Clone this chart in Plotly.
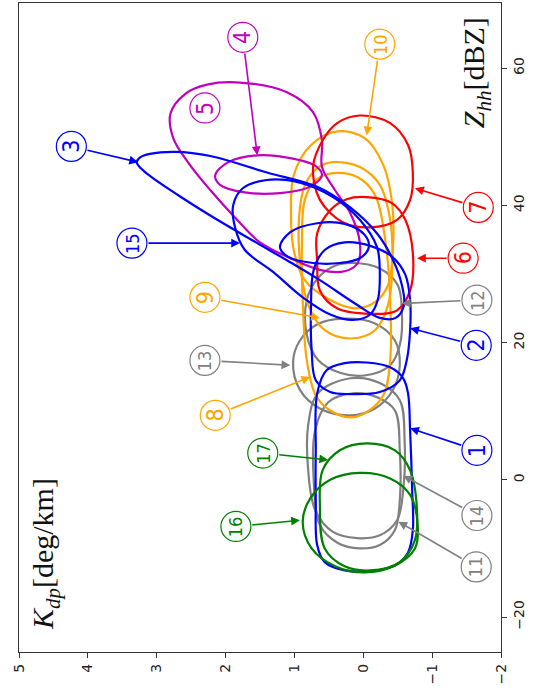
import plotly.graph_objects as go

# ---- contour outlines: Kdp [deg/km] and Zhh [dBZ] along each closed curve ----
c1_kdp = [0.67, 0.53, 0.27, -0.05, -0.39, -0.58, -0.65, -0.68, -0.71, -0.72, -0.65, -0.46, -0.10, 0.27, 0.56, 0.67, 0.69, 0.69]
c1_zhh = [12.6, 16.0, 17.0, 17.1, 16.4, 14.8, 12.6, 7.2, -1.5, -7.3, -10.6, -12.5, -13.3, -13.2, -12.0, -9.5, -3.0, 4.3]

c2_kdp = [0.75, 0.69, 0.48, 0.19, -0.24, -0.53, -0.63, -0.68, -0.68, -0.61, -0.42, -0.10, 0.27, 0.56, 0.72, 0.76]
c2_zhh = [18.9, 14.5, 12.8, 12.5, 12.8, 14.5, 17.4, 21.8, 26.2, 29.9, 32.5, 34.1, 34.6, 33.5, 30.6, 24.7]

c3_kdp = [3.29, 3.24, 3.10, 2.73, 2.22, 1.40, 0.67, 0.19, -0.20, -0.42, -0.56, -0.59, -0.47, -0.24, 0.12, 0.63, 1.11, 1.54, 2.12, 2.66, 3.10, 3.23]
c3_zhh = [46.3, 47.0, 47.5, 47.8, 47.2, 44.8, 42.7, 39.7, 35.9, 32.3, 28.4, 25.4, 23.6, 23.6, 25.7, 29.1, 32.0, 34.5, 37.9, 41.3, 44.3, 45.4]

c15_kdp = [1.40, 0.92, 0.44, 0.05, -0.20, -0.24, -0.21, -0.10, 0.15, 0.48, 0.88, 1.31, 1.72, 1.86, 1.89, 1.75]
c15_zhh = [43.7, 43.3, 41.2, 37.9, 33.9, 30.1, 26.2, 24.1, 23.3, 24.1, 26.6, 30.3, 33.5, 36.7, 40.0, 42.5]

inner_kdp = [1.21, 1.06, 0.67, 0.27, -0.02, -0.08, 0.05, 0.34, 0.73, 1.09]
inner_zhh = [33.9, 36.1, 37.4, 37.3, 35.7, 33.9, 32.3, 31.6, 31.6, 32.5]

c4_kdp = [1.54, 1.06, 0.70, 0.60, 0.78, 1.21, 1.72, 2.08, 2.15, 1.96]
c4_zhh = [47.3, 46.9, 45.8, 44.4, 42.7, 41.8, 41.9, 43.0, 44.4, 46.3]

c5_kdp = [2.80, 2.58, 2.27, 1.79, 1.11, 0.73, 0.60, 0.60, 0.41, 0.19, 0.05, 0.08, 0.27, 0.63, 1.06, 1.50, 1.86, 2.22, 2.54, 2.76]
c5_zhh = [53.4, 56.3, 57.6, 57.9, 56.5, 53.6, 49.5, 45.6, 42.2, 38.9, 34.6, 31.6, 30.4, 30.6, 32.3, 34.6, 38.2, 42.2, 46.2, 49.8]

c6_kdp = [-0.05, -0.42, -0.61, -0.72, -0.68, -0.49, -0.10, 0.38, 0.63, 0.67, 0.67, 0.48, 0.24]
c6_zhh = [41.2, 40.3, 37.9, 33.0, 27.6, 24.7, 24.2, 25.0, 27.6, 32.0, 35.9, 39.3, 40.9]

c7_kdp = [0.05, -0.39, -0.65, -0.72, -0.68, -0.49, -0.10, 0.29, 0.63, 0.73, 0.59, 0.38]
c7_zhh = [53.1, 52.0, 48.8, 44.7, 40.8, 37.9, 36.8, 37.5, 40.8, 45.6, 49.5, 52.0]

c8_kdp = [0.44, 0.08, -0.17, -0.32, -0.39, -0.39, -0.29, -0.02, 0.19, 0.48, 0.69, 0.82, 0.88, 0.89, 0.85, 0.69]
c8_zhh = [44.7, 44.1, 41.5, 34.9, 26.2, 17.4, 12.3, 9.7, 9.1, 10.1, 12.3, 17.4, 26.2, 34.9, 40.8, 43.7]

c9_kdp = [0.44, 0.05, -0.24, -0.39, -0.42, -0.36, -0.17, 0.19, 0.56, 0.80, 0.92, 0.93, 0.85, 0.66]
c9_zhh = [46.3, 45.6, 43.0, 37.9, 30.6, 25.5, 21.8, 20.6, 21.8, 25.5, 32.0, 38.6, 42.9, 45.5]

c10_kdp = [0.38, -0.02, -0.29, -0.42, -0.43, -0.36, -0.17, 0.12, 0.48, 0.85, 1.01, 1.05, 1.01, 0.77]
c10_zhh = [50.8, 49.8, 45.9, 40.2, 33.6, 28.4, 25.9, 25.0, 26.2, 29.1, 33.5, 39.3, 44.4, 48.7]

c11_kdp = [0.15, -0.21, -0.46, -0.53, -0.53, -0.46, -0.24, 0.05, 0.37, 0.63, 0.72, 0.70, 0.51]
c11_zhh = [12.6, 12.0, 10.1, 4.3, -3.0, -7.3, -9.5, -10.0, -9.2, -6.6, -0.1, 7.2, 11.3]

c12_kdp = [0.15, -0.24, -0.50, -0.56, -0.53, -0.39, -0.02, 0.34, 0.66, 0.82, 0.82, 0.66, 0.41]
c12_zhh = [31.6, 30.8, 28.4, 24.7, 19.6, 16.7, 15.2, 15.6, 17.5, 21.1, 26.2, 29.4, 31.2]

c13_kdp = [0.29, -0.17, -0.46, -0.53, -0.43, -0.17, 0.19, 0.63, 0.92, 1.02, 0.92, 0.66]
c13_zhh = [23.5, 22.8, 20.3, 16.7, 13.1, 10.4, 9.4, 10.4, 13.1, 17.2, 20.3, 22.7]

c14_kdp = [0.19, -0.24, -0.53, -0.60, -0.58, -0.49, -0.24, 0.09, 0.44, 0.70, 0.80, 0.80, 0.66]
c14_zhh = [14.8, 14.1, 11.6, 5.8, -1.5, -5.9, -8.1, -8.5, -7.6, -4.4, 1.4, 8.0, 12.6]

c16_kdp = [0.05, -0.39, -0.68, -0.79, -0.75, -0.46, -0.02, 0.41, 0.75, 0.88, 0.77, 0.48]
c16_zhh = [1.0, 0.2, -2.2, -6.6, -10.0, -12.5, -13.5, -12.6, -10.0, -6.2, -2.7, 0.0]

c17_kdp = [-0.05, -0.46, -0.68, -0.78, -0.75, -0.53, -0.10, 0.27, 0.56, 0.63, 0.59, 0.34]
c17_zhh = [5.3, 4.3, 1.4, -4.4, -8.8, -12.0, -13.2, -12.6, -10.0, -3.7, 1.4, 4.3]

# ---- numbered callouts: label centre and arrow tip (None = no arrow) ----
label_num = [3, 4, 5, 15, 9, 13, 8, 17, 16, 10, 7, 6, 12, 2, 1, 14, 11]
label_kdp = [4.24, 1.75, 2.30, 3.36, 2.30, 2.30, 2.15, 1.46, 1.85, -0.24, -1.67, -1.45, -1.65, -1.64, -1.65, -1.65, -1.64]
label_zhh = [48.6, 64.5, 54.2, 34.5, 26.6, 17.4, 9.4, 3.9, -6.8, 63.5, 39.7, 32.3, 26.2, 19.6, 4.3, -5.2, -12.7]
tip_kdp = [3.27, 1.54, None, 1.79, 0.63, 1.06, 0.77, 0.51, 0.92, -0.05, -0.75, -0.78, -0.56, -0.68, -0.68, -0.58, -0.51]
tip_zhh = [46.3, 47.3, None, 34.5, 23.6, 16.7, 15.0, 2.9, -5.9, 50.2, 42.5, 32.3, 25.7, 22.1, 7.5, 0.6, -6.1]

kdp_ticks = [5, 4, 3, 2, 1, 0, -1, -2]
zhh_ticks = [-20, 0, 20, 40, 60]

BLUE = "#0000ff"
MAGENTA = "#bf00bf"
RED = "#ff0000"
ORANGE = "#ffa500"
GRAY = "#808080"
GREEN = "#008000"

num_color = {1: BLUE, 2: BLUE, 3: BLUE, 15: BLUE, 4: MAGENTA, 5: MAGENTA,
             6: RED, 7: RED, 8: ORANGE, 9: ORANGE, 10: ORANGE,
             11: GRAY, 12: GRAY, 13: GRAY, 14: GRAY, 16: GREEN, 17: GREEN}

curves = [
    (c11_kdp, c11_zhh, GRAY), (c14_kdp, c14_zhh, GRAY), (c13_kdp, c13_zhh, GRAY),
    (c12_kdp, c12_zhh, GRAY),
    (c8_kdp, c8_zhh, ORANGE), (c9_kdp, c9_zhh, ORANGE), (c10_kdp, c10_zhh, ORANGE),
    (c5_kdp, c5_zhh, MAGENTA), (c4_kdp, c4_zhh, MAGENTA),
    (c6_kdp, c6_zhh, RED), (c7_kdp, c7_zhh, RED),
    (c1_kdp, c1_zhh, BLUE), (c2_kdp, c2_zhh, BLUE), (c3_kdp, c3_zhh, BLUE),
    (c15_kdp, c15_zhh, BLUE), (inner_kdp, inner_zhh, BLUE),
    (c16_kdp, c16_zhh, GREEN), (c17_kdp, c17_zhh, GREEN),
]


def closed(seq):
    """Repeat the first vertex at the end; plotly then draws a closed spline."""
    return list(seq) + [seq[0]]


fig = go.Figure()
for kdp, zhh, col in curves:
    fig.add_trace(go.Scatter(
        x=closed(kdp), y=closed(zhh), mode="lines",
        line=dict(color=col, width=2.2, shape="spline", smoothing=1.0),
        hoverinfo="skip", showlegend=False))

shapes = []
annotations = []
R = 15  # callout circle radius in px
for n, lk, lz, tk, tz in zip(label_num, label_kdp, label_zhh, tip_kdp, tip_zhh):
    col = num_color[n]
    if tk is not None:
        annotations.append(dict(
            x=tk, y=tz, ax=lk, ay=lz, xref="x", yref="y", axref="x", ayref="y",
            text="", showarrow=True, arrowhead=2, arrowsize=1.1, arrowwidth=1.6,
            arrowcolor=col, startstandoff=R, standoff=0))
    shapes.append(dict(
        type="circle", xref="x", yref="y", xsizemode="pixel", ysizemode="pixel",
        xanchor=lk, yanchor=lz, x0=-R, x1=R, y0=-R, y1=R,
        line=dict(color=col, width=1.2), fillcolor="white", layer="above"))
    annotations.append(dict(
        x=lk, y=lz, xref="x", yref="y", text=str(n), showarrow=False,
        textangle=-90, xanchor="center", yanchor="middle",
        font=dict(family="DejaVu Sans Condensed, Liberation Sans Narrow, DejaVu Sans",
                  size=23 if n < 10 else 18, color=col)))

# axis titles, written sideways
annotations.append(dict(
    x=4.62, y=-10.8, xref="x", yref="y", showarrow=False, textangle=-90,
    text="<i>K</i><sub><i>dp</i></sub>[deg/km]",
    font=dict(family="Liberation Serif", size=30, color="#111")))
annotations.append(dict(
    x=-1.64, y=59.3, xref="x", yref="y", showarrow=False, textangle=-90,
    text="<i>Z</i><sub><i>hh</i></sub>[dBZ]",
    font=dict(family="Liberation Serif", size=30, color="#111")))

axis_common = dict(showgrid=False, zeroline=False, showline=True, mirror=True,
                   linecolor="#333", linewidth=1.4, ticks="outside", ticklen=5,
                   tickwidth=1.3, tickcolor="#333", tickangle=-90,
                   tickfont=dict(family="DejaVu Sans", size=14, color="#222"))

fig.update_layout(
    width=539, height=697,
    margin=dict(l=19, r=38, t=3, b=45),
    paper_bgcolor="white", plot_bgcolor="white",
    xaxis=dict(range=[5, -2], tickvals=kdp_ticks, **axis_common),
    yaxis=dict(range=[-25.1, 69.5], tickvals=zhh_ticks, side="right", **axis_common),
    shapes=shapes, annotations=annotations, showlegend=False, hovermode=False,
)

fig.write_html("out.html")
